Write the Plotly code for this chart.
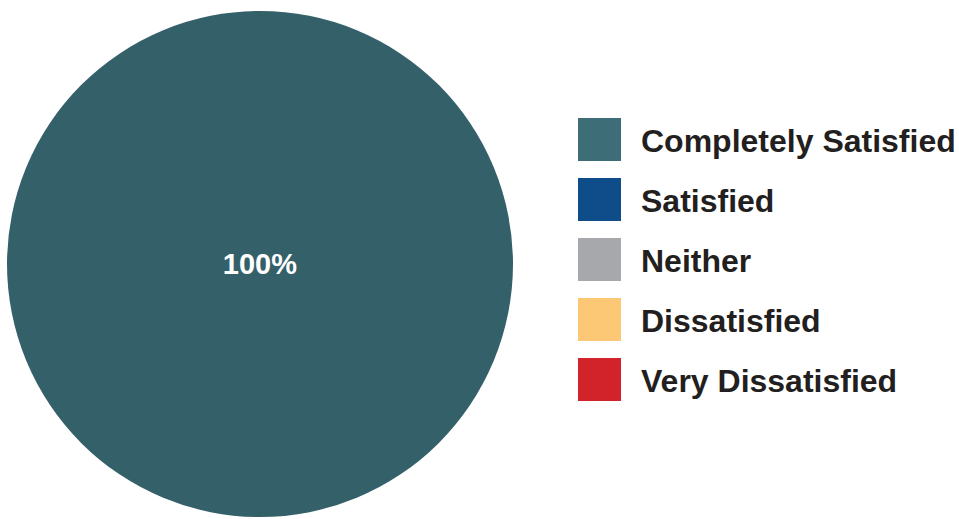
import plotly.graph_objects as go

# Survey satisfaction breakdown
categories = ["Completely Satisfied", "Satisfied", "Neither", "Dissatisfied", "Very Dissatisfied"]
shares = [100, 0, 0, 0, 0]
colors = ["#3d6e78", "#0e4c8a", "#a7a8ab", "#fcc875", "#d2232a"]
pie_colors = ["#34606a", "#0e4c8a", "#a7a8ab", "#fcc875", "#d2232a"]

W, H = 959, 519
text_color = "#231f20"
font_family = "Liberation Sans, Arial, Helvetica, sans-serif"

fig = go.Figure()

fig.add_trace(go.Pie(
    labels=categories,
    values=shares,
    sort=False,
    direction="clockwise",
    marker=dict(colors=pie_colors, line=dict(width=0)),
    textinfo="percent",
    textposition="inside",
    texttemplate=["%{percent:.0%}" if v > 0 else "" for v in shares],
    insidetextfont=dict(color="white", size=29, family=font_family, weight="bold"),
    domain=dict(x=[7 / W, 513 / W], y=[1 - 518 / H, 1 - 10 / H]),
    hoverinfo="label+percent",
    showlegend=False,
))

# Legend: coloured squares with bold labels, stacked on the right
sq_left, sq_size, first_top, step, text_x = 578, 43, 118, 60, 639
shapes, annotations = [], []
for i, (name, col) in enumerate(zip(categories, colors)):
    top = first_top + i * step
    shapes.append(dict(
        type="rect", xref="paper", yref="paper",
        x0=sq_left / W, x1=(sq_left + sq_size) / W,
        y0=1 - (top + sq_size) / H, y1=1 - top / H,
        fillcolor=col, line=dict(width=0),
    ))
    annotations.append(dict(
        xref="paper", yref="paper",
        x=text_x / W, y=1 - (top + sq_size / 2 + 1) / H,
        xanchor="left", yanchor="middle", showarrow=False,
        text=name,
        font=dict(size=32, color=text_color, family=font_family, weight="bold"),
    ))

fig.update_layout(
    width=W, height=H,
    margin=dict(l=0, r=0, t=0, b=0),
    paper_bgcolor="white",
    plot_bgcolor="white",
    shapes=shapes,
    annotations=annotations,
)

fig.write_html("out.html")
